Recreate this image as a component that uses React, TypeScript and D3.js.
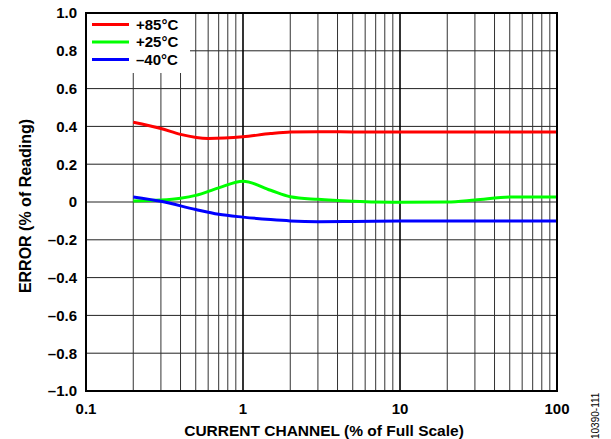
import React from "react";
import * as d3 from "d3";

const xTickValues = [0.1, 1, 10, 100];
const xTickLabels = ["0.1", "1", "10", "100"];
const yTickValues = [-1, -0.8, -0.6, -0.4, -0.2, 0, 0.2, 0.4, 0.6, 0.8, 1.0];
const yTickLabels = ["–1.0", "–0.8", "–0.6", "–0.4", "–0.2", "0", "0.2", "0.4", "0.6", "0.8", "1.0"];

const seriesNames = ["+85°C", "+25°C", "–40°C"];
const seriesColors = ["#ff0000", "#00ff00", "#0000ff"];

const red85: [number, number][] = [
  [0.2, 0.422], [0.3, 0.389], [0.4, 0.358], [0.6, 0.336], [1, 0.345], [1.5, 0.362],
  [2, 0.37], [3, 0.372], [5, 0.371], [10, 0.37], [20, 0.37], [50, 0.37], [100, 0.37],
];
const green25: [number, number][] = [
  [0.2, 0.005], [0.3, 0.01], [0.4, 0.02], [0.5, 0.035], [0.7, 0.075], [1, 0.11],
  [1.5, 0.062], [2, 0.028], [3, 0.014], [5, 0.004], [7, 0.0], [10, -0.001],
  [20, 0.0], [30, 0.01], [50, 0.026], [100, 0.026],
];
const blueM40: [number, number][] = [
  [0.2, 0.027], [0.3, 0.004], [0.5, -0.04], [0.7, -0.065], [1, -0.08], [1.5, -0.093],
  [2, -0.1], [3, -0.104], [5, -0.103], [10, -0.101], [30, -0.1], [100, -0.1],
];
const seriesData = [red85, green25, blueM40];

export default function App() {
  const W = 611, H = 439;
  const left = 86, right = 557, top = 13, bottom = 391;
  const x = d3.scaleLog().domain([0.1, 100]).range([left, right]);
  const y = d3.scaleLinear().domain([-1, 1]).range([bottom, top]);

  const minor: number[] = [];
  [0.1, 1, 10].forEach((d) => {
    for (let k = 2; k <= 9; k++) minor.push(d * k);
  });

  const line = d3
    .line<[number, number]>()
    .x((d) => x(d[0]))
    .y((d) => y(d[1]))
    .curve(d3.curveMonotoneX);

  const font = "'Liberation Sans', Arial, sans-serif";
  const legX0 = left, legY0 = top, legW = 104, legH = 60;

  return (
    <svg width={W} height={H} style={{ position: "absolute", left: 0, top: 0 }} fontFamily={font}>
      <rect x={0} y={0} width={W} height={H} fill="#fff" />
      {yTickValues.map((v, i) => (
        <line key={"h" + i} x1={left} x2={right} y1={y(v)} y2={y(v)} stroke="#222" strokeWidth={1} />
      ))}
      {minor.map((v, i) => (
        <line key={"v" + i} x1={x(v)} x2={x(v)} y1={top} y2={bottom} stroke="#333" strokeWidth={1} />
      ))}
      {[1, 10].map((v, i) => (
        <line key={"d" + i} x1={x(v)} x2={x(v)} y1={top} y2={bottom} stroke="#000" strokeWidth={1.6} />
      ))}
      <rect x={legX0 + 1} y={legY0 + 1} width={legW - 1} height={legH - 1} fill="#fff" />
      {seriesData.map((s, i) => (
        <path key={"s" + i} d={line(s) || ""} fill="none" stroke={seriesColors[i]} strokeWidth={3} />
      ))}
      <rect x={left} y={top} width={right - left} height={bottom - top} fill="none" stroke="#000" strokeWidth={2} />
      {seriesNames.map((n, i) => (
        <g key={"l" + i}>
          <line x1={92} x2={129} y1={24.5 + i * 17.5} y2={24.5 + i * 17.5} stroke={seriesColors[i]} strokeWidth={3} />
          <text x={136} y={29.8 + i * 17.5} fontSize={15} fontWeight="bold" fill="#000">{n}</text>
        </g>
      ))}
      {yTickValues.map((v, i) => (
        <text key={"yt" + i} x={77} y={y(v) + 5.3} textAnchor="end" fontSize={15} fontWeight="bold">{yTickLabels[i]}</text>
      ))}
      {xTickValues.map((v, i) => (
        <text key={"xt" + i} x={x(v)} y={414} textAnchor="middle" fontSize={15} fontWeight="bold">{xTickLabels[i]}</text>
      ))}
      <text x={324} y={436} textAnchor="middle" fontSize={15.5} fontWeight="bold">CURRENT CHANNEL (% of Full Scale)</text>
      <text transform={`translate(31,206) rotate(-90)`} textAnchor="middle" fontSize={16} fontWeight="bold">ERROR (% of Reading)</text>
      <text transform={`translate(599,439) rotate(-90)`} textAnchor="start" fontSize={10}>10390-111</text>
    </svg>
  );
}
